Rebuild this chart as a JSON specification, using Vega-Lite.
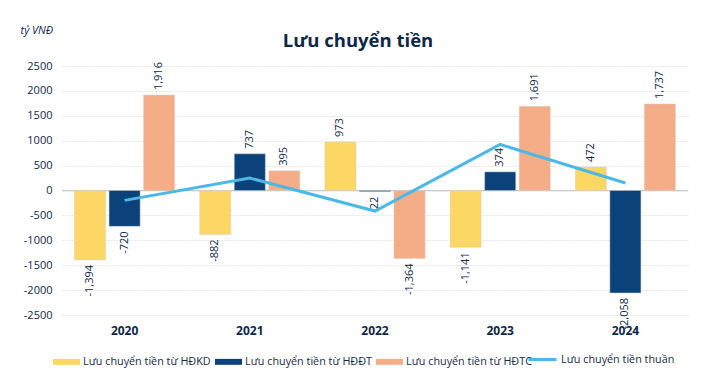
{
  "$schema": "https://vega.github.io/schema/vega-lite/v6.json",
  "width": 626,
  "height": 249,
  "autosize": {"type": "none"},
  "padding": {"left": 62, "top": 66, "right": 25, "bottom": 70},
  "background": "white",
  "title": {
    "text": "Lưu chuyển tiền",
    "fontSize": 18.5,
    "fontWeight": "bold",
    "color": "#0f2747",
    "font": "Open Sans",
    "anchor": "middle",
    "dx": -17,
    "dy": 40,
    "offset": 14
  },
  "config": {
    "view": {"stroke": null},
    "font": "Open Sans"
  },
  "data": {
    "values": [
      {"year": "2020", "series": "Lưu chuyển tiền từ HĐKD", "value": -1394},
      {"year": "2020", "series": "Lưu chuyển tiền từ HĐĐT", "value": -720},
      {"year": "2020", "series": "Lưu chuyển tiền từ HĐTC", "value": 1916},
      {"year": "2020", "series": "Lưu chuyển tiền thuần", "value": -198},
      {"year": "2021", "series": "Lưu chuyển tiền từ HĐKD", "value": -882},
      {"year": "2021", "series": "Lưu chuyển tiền từ HĐĐT", "value": 737},
      {"year": "2021", "series": "Lưu chuyển tiền từ HĐTC", "value": 395},
      {"year": "2021", "series": "Lưu chuyển tiền thuần", "value": 250},
      {"year": "2022", "series": "Lưu chuyển tiền từ HĐKD", "value": 973},
      {"year": "2022", "series": "Lưu chuyển tiền từ HĐĐT", "value": -22},
      {"year": "2022", "series": "Lưu chuyển tiền từ HĐTC", "value": -1364},
      {"year": "2022", "series": "Lưu chuyển tiền thuần", "value": -413},
      {"year": "2023", "series": "Lưu chuyển tiền từ HĐKD", "value": -1141},
      {"year": "2023", "series": "Lưu chuyển tiền từ HĐĐT", "value": 374},
      {"year": "2023", "series": "Lưu chuyển tiền từ HĐTC", "value": 1691},
      {"year": "2023", "series": "Lưu chuyển tiền thuần", "value": 924},
      {"year": "2024", "series": "Lưu chuyển tiền từ HĐKD", "value": 472},
      {"year": "2024", "series": "Lưu chuyển tiền từ HĐĐT", "value": -2058},
      {"year": "2024", "series": "Lưu chuyển tiền từ HĐTC", "value": 1737},
      {"year": "2024", "series": "Lưu chuyển tiền thuần", "value": 151}
    ]
  },
  "transform": [
    {"calculate": "replace(format(datum.value, ',.0f'), '\u2212', '-')", "as": "label"}
  ],
  "encoding": {
    "x": {
      "field": "year",
      "type": "nominal",
      "scale": {"paddingInner": 0.2, "paddingOuter": 0.1},
      "axis": {
        "title": null,
        "labelAngle": 0,
        "labelFontWeight": "bold",
        "labelFontSize": 12,
        "labelColor": "#0f2747",
        "labelPadding": 10,
        "domain": false,
        "ticks": false
      }
    },
    "y": {
      "field": "value",
      "type": "quantitative",
      "scale": {"domain": [-2500, 2500], "nice": false},
      "axis": {
        "values": [-2500, -2000, -1500, -1000, -500, 0, 500, 1000, 1500, 2000, 2500],
        "labelExpr": "toString(datum.value)",
        "title": "tỷ VNĐ",
        "titleAngle": 0,
        "titleFontStyle": "italic",
        "titleFontWeight": "normal",
        "titleFontSize": 11,
        "titleColor": "#0f2747",
        "titleAlign": "left",
        "titleBaseline": "middle",
        "titleX": -42,
        "titleY": -36,
        "labelFontSize": 11,
        "labelColor": "#0f2747",
        "labelPadding": 10,
        "domain": false,
        "ticks": false,
        "gridColor": "#e6e6e6",
        "gridDash": [2, 1]
      }
    }
  },
  "layer": [
    {
      "mark": {"type": "rule", "color": "#c8c8c8", "strokeWidth": 1},
      "encoding": {"y": {"datum": 0}, "x": null}
    },
    {
      "transform": [{"filter": "datum.series !== 'Lưu chuyển tiền thuần'"}],
      "mark": {"type": "bar", "stroke": "#d0d0d0", "strokeWidth": 0.5},
      "encoding": {
        "xOffset": {
          "field": "series",
          "type": "nominal",
          "sort": ["Lưu chuyển tiền từ HĐKD", "Lưu chuyển tiền từ HĐĐT", "Lưu chuyển tiền từ HĐTC"],
          "scale": {"paddingInner": 0.1}
        },
        "color": {
          "field": "series",
          "type": "nominal",
          "scale": {
            "domain": ["Lưu chuyển tiền từ HĐKD", "Lưu chuyển tiền từ HĐĐT", "Lưu chuyển tiền từ HĐTC"],
            "range": ["#fcd766", "#0b427a", "#f5ad88"]
          },
          "legend": {
            "title": null,
            "orient": "none",
            "direction": "horizontal",
            "legendX": -9,
            "legendY": 282,
            "labelFont": "Open Sans",
            "labelFontSize": 10.8,
            "labelColor": "#1a2a44",
            "labelOffset": 3,
            "columnPadding": 4,
            "symbolType": "M-1,-0.22H1V0.22H-1Z",
            "symbolSize": 729,
            "symbolStrokeWidth": 0
          }
        }
      }
    },
    {
      "transform": [{"filter": "datum.series !== 'Lưu chuyển tiền thuần' && datum.value >= 0"}],
      "mark": {"type": "text", "angle": 270, "align": "left", "baseline": "middle", "dx": 5, "fontSize": 11, "color": "#0f2747"},
      "encoding": {
        "xOffset": {
          "field": "series",
          "type": "nominal",
          "sort": ["Lưu chuyển tiền từ HĐKD", "Lưu chuyển tiền từ HĐĐT", "Lưu chuyển tiền từ HĐTC"],
          "scale": {"paddingInner": 0.1}
        },
        "text": {"field": "label", "type": "nominal"}
      }
    },
    {
      "transform": [{"filter": "datum.series !== 'Lưu chuyển tiền thuần' && datum.value < 0"}],
      "mark": {"type": "text", "angle": 270, "align": "right", "baseline": "middle", "dx": -5, "fontSize": 11, "color": "#0f2747"},
      "encoding": {
        "xOffset": {
          "field": "series",
          "type": "nominal",
          "sort": ["Lưu chuyển tiền từ HĐKD", "Lưu chuyển tiền từ HĐĐT", "Lưu chuyển tiền từ HĐTC"],
          "scale": {"paddingInner": 0.1}
        },
        "text": {"field": "label", "type": "nominal"}
      }
    },
    {
      "transform": [{"filter": "datum.series === 'Lưu chuyển tiền thuần'"}],
      "mark": {"type": "line", "strokeWidth": 3},
      "encoding": {
        "stroke": {
          "field": "series",
          "type": "nominal",
          "scale": {"domain": ["Lưu chuyển tiền thuần"], "range": ["#4db8e5"]},
          "legend": {
            "title": null,
            "orient": "none",
            "direction": "horizontal",
            "legendX": 465,
            "legendY": 278,
            "labelFont": "Open Sans",
            "labelFontSize": 10.8,
            "labelColor": "#1a2a44",
            "labelOffset": 3,
            "symbolType": "stroke",
            "symbolSize": 784,
            "symbolStrokeWidth": 3
          }
        }
      }
    }
  ]
}
